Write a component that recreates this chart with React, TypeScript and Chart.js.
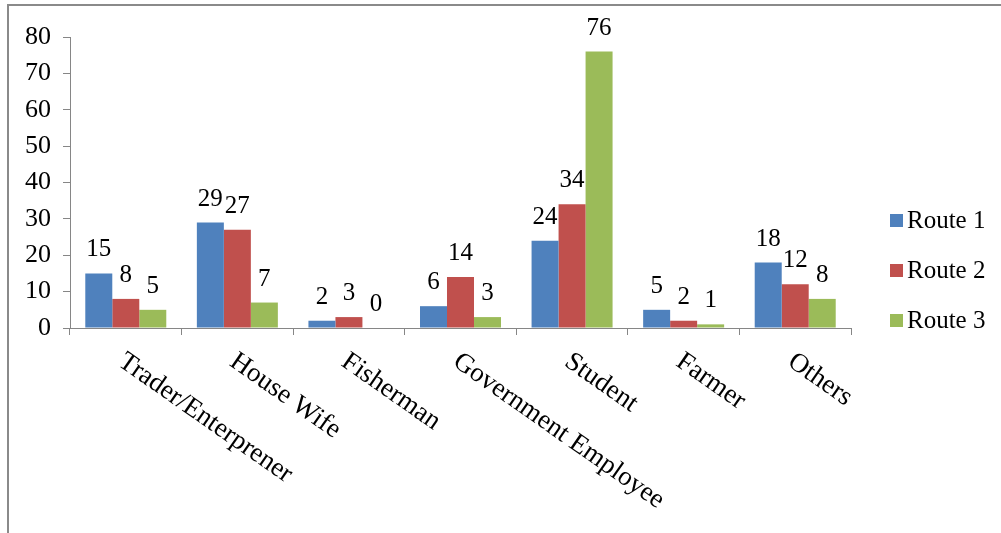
import React, { useEffect, useRef } from "react";
import { Chart, registerables } from "chart.js";

Chart.register(...registerables);

const categories = [
  "Trader/Enterprener",
  "House Wife",
  "Fisherman",
  "Government Employee",
  "Student",
  "Farmer",
  "Others",
];
const route1 = [15, 29, 2, 6, 24, 5, 18];
const route2 = [8, 27, 3, 14, 34, 2, 12];
const route3 = [5, 7, 0, 3, 76, 1, 8];
const seriesNames = ["Route 1", "Route 2", "Route 3"];
const seriesColors = ["#4F81BD", "#C0504D", "#9BBB59"];
const yTicks = [0, 10, 20, 30, 40, 50, 60, 70, 80];

const FONT = '"Liberation Serif", "Times New Roman", serif';
const AXIS_GRAY = "#868686";

// Numbers printed above each bar
const barValueLabels = {
  id: "barValueLabels",
  afterDatasetsDraw(chart: any) {
    const ctx = chart.ctx;
    ctx.save();
    ctx.font = `25px ${FONT}`;
    ctx.fillStyle = "#000";
    ctx.textAlign = "center";
    ctx.textBaseline = "alphabetic";
    chart.data.datasets.forEach((ds: any, di: number) => {
      const meta = chart.getDatasetMeta(di);
      meta.data.forEach((bar: any, i: number) => {
        ctx.fillText(String(ds.data[i]), bar.x, bar.y - 17);
      });
    });
    ctx.restore();
  },
};

// Slanted category names hanging down-right from each category centre
const slantedCategoryLabels = {
  id: "slantedCategoryLabels",
  afterDraw(chart: any) {
    const ctx = chart.ctx;
    const xs = chart.scales.x;
    const angle = (35 * Math.PI) / 180;
    ctx.save();
    ctx.font = `27px ${FONT}`;
    ctx.fillStyle = "#000";
    ctx.textAlign = "left";
    ctx.textBaseline = "top";
    chart.data.labels.forEach((label: string, i: number) => {
      const cx = xs.getPixelForValue(i);
      ctx.save();
      ctx.translate(cx + 3, chart.chartArea.bottom + 20);
      ctx.rotate(angle);
      ctx.fillText(label, 0, 0);
      ctx.restore();
    });
    ctx.restore();
  },
};

// Series key on the right side
const sideLegend = {
  id: "sideLegend",
  afterDraw(chart: any) {
    const ctx = chart.ctx;
    const rows = [220, 270, 320];
    ctx.save();
    ctx.font = `25px ${FONT}`;
    ctx.textAlign = "left";
    ctx.textBaseline = "middle";
    chart.data.datasets.forEach((ds: any, i: number) => {
      const y = rows[i];
      ctx.fillStyle = ds.backgroundColor;
      ctx.fillRect(890, y - 6, 13, 13);
      ctx.fillStyle = "#000";
      ctx.fillText(ds.label, 907, y + 1);
    });
    ctx.restore();
  },
};

export default function App() {
  const canvasRef = useRef<HTMLCanvasElement | null>(null);

  useEffect(() => {
    if (!canvasRef.current) return;
    const values = [route1, route2, route3];
    const chart = new Chart(canvasRef.current, {
      type: "bar",
      data: {
        labels: categories,
        datasets: seriesNames.map((name, i) => ({
          label: name,
          data: values[i],
          backgroundColor: seriesColors[i],
          borderWidth: 0,
          categoryPercentage: 0.726,
          barPercentage: 1,
        })),
      },
      options: {
        animation: false,
        responsive: false,
        maintainAspectRatio: false,
        devicePixelRatio: 1,
        layout: { padding: { left: 0, top: 37, right: 150, bottom: 0 } },
        plugins: {
          legend: { display: false },
          tooltip: { enabled: false },
        },
        scales: {
          x: {
            type: "category",
            offset: true,
            grid: {
              display: true,
              offset: true,
              drawOnChartArea: false,
              drawTicks: true,
              tickLength: 7,
              color: AXIS_GRAY,
            },
            border: { display: true, color: AXIS_GRAY, width: 1 },
            ticks: { display: false },
            afterFit(scale: any) {
              scale.height = 533 - 328;
            },
          },
          y: {
            min: 0,
            max: 80,
            afterBuildTicks(scale: any) {
              scale.ticks = yTicks.map((v) => ({ value: v }));
            },
            grid: {
              display: true,
              drawOnChartArea: false,
              drawTicks: true,
              tickLength: 7,
              color: AXIS_GRAY,
            },
            border: { display: true, color: AXIS_GRAY, width: 1 },
            ticks: {
              padding: 12,
              color: "#000",
              font: { family: FONT, size: 26 },
            },
            afterFit(scale: any) {
              scale.width = 70;
            },
          },
        },
      },
      plugins: [barValueLabels, slantedCategoryLabels, sideLegend],
    } as any);
    return () => chart.destroy();
  }, []);

  return (
    <div
      style={{
        position: "absolute",
        left: 0,
        top: 0,
        width: 1001,
        height: 533,
        background: "#fff",
        overflow: "hidden",
      }}
    >
      <canvas
        ref={canvasRef}
        width={1001}
        height={533}
        style={{ position: "absolute", left: 0, top: 0, width: 1001, height: 533 }}
      />
      <div
        style={{
          position: "absolute",
          left: 7,
          top: 4,
          width: 1010,
          height: 540,
          borderTop: "2px solid #8a8a8a",
          borderLeft: "2px solid #8a8a8a",
          pointerEvents: "none",
        }}
      />
    </div>
  );
}
